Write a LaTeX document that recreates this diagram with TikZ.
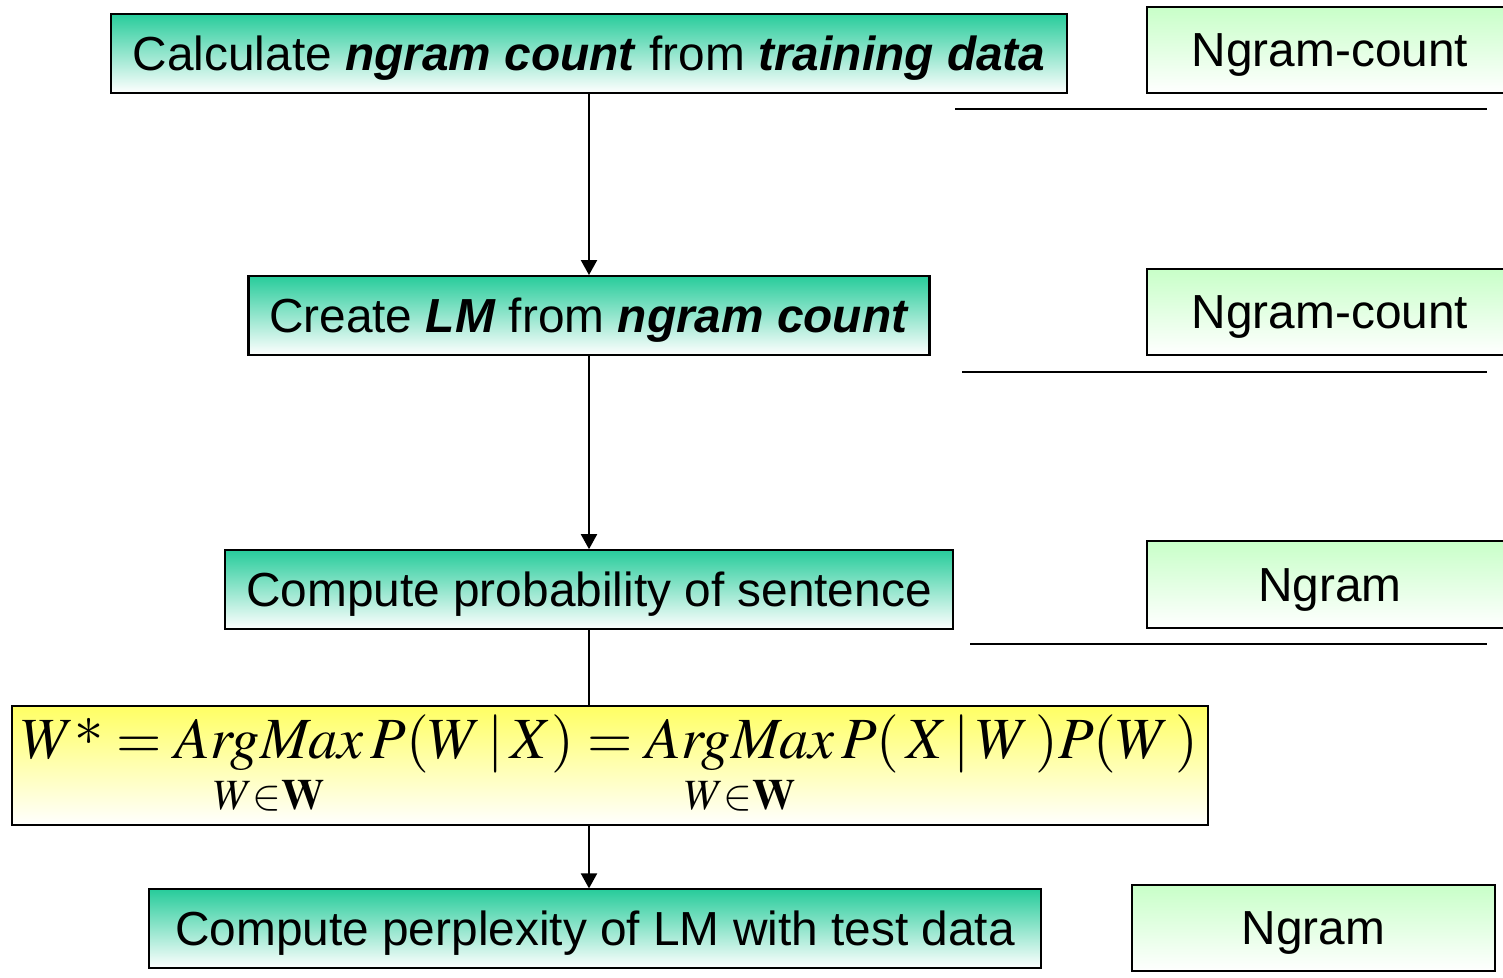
\documentclass[tikz,border=0pt]{standalone}
\usepackage{amsmath}
\usepackage{mathptmx}
\usepackage[no-math]{fontspec}
\setmainfont{Liberation Sans}
\usepackage{tikz}
\usetikzlibrary{arrows.meta,positioning}
\definecolor{stepteal}{RGB}{40,204,155}
\definecolor{toolgreen}{RGB}{200,255,200}
\definecolor{formyellow}{RGB}{255,255,100}

\begin{document}
\begin{tikzpicture}[
  node distance=1.8cm,
  stepbox/.style={rectangle, draw=black, line width=0.6pt, top color=stepteal, bottom color=white,
    minimum height=0.79cm, inner sep=0pt, text height=0.43cm, text depth=0.1cm,
    font=\fontsize{13.6}{16}\selectfont},
  toolbox/.style={stepbox, top color=toolgreen, minimum width=3.66cm, minimum height=0.86cm},
  formbox/.style={rectangle, draw=black, line width=0.6pt, top color=formyellow, bottom color=white,
    minimum width=11.96cm, minimum height=1.19cm, inner sep=0pt, font=\fontsize{16.6}{20}\selectfont},
  arr/.style={-{Triangle[length=1.5mm,width=1.6mm]}, line width=0.6pt}
]
\useasboundingbox (0,0) rectangle (15.03,-9.78);

% main steps
\node[stepbox, minimum width=9.56cm] (count) at (5.89,-0.535)
  {Calculate \textbf{\textit{ngram count}} from \textbf{\textit{training data}}};
\node[stepbox, minimum width=6.81cm, below=1.81cm of count] (lm)
  {Create \textbf{\textit{LM}} from \textbf{\textit{ngram count}}};
\node[stepbox, minimum width=7.28cm, below=1.93cm of lm] (prob)
  {Compute probability of sentence};
\node[formbox, below=0.75cm of prob, xshift=0.21cm] (formula)
  {$\displaystyle W\raisebox{0.22em}{$*$} = \operatorname*{\mathit{ArgMax}}_{W\in\mathbf{W}} P(W \,|\, X) = \operatorname*{\mathit{ArgMax}}_{W\in\mathbf{W}} P(\,X\,|\,W\,)P(W\,)$};
\node[stepbox, minimum width=8.92cm, below=0.62cm of formula, xshift=-0.15cm] (ppl)
  {Compute perplexity of LM with test data};

% tools (the first three run past the right edge)
\node[toolbox] (tool1) at (13.30,-0.50) {Ngram-count};
\node[toolbox] (tool2) at (13.30,-3.12) {Ngram-count};
\node[toolbox, minimum height=0.87cm] (tool3) at (13.30,-5.845) {Ngram};
\node[toolbox, minimum width=3.63cm] (tool4) at (13.135,-9.28) {Ngram};

% separators
\draw[line width=0.6pt] (9.55,-1.09) -- (14.87,-1.09);
\draw[line width=0.6pt] (9.62,-3.72) -- (14.87,-3.72);
\draw[line width=0.6pt] (9.70,-6.44) -- (14.87,-6.44);

\draw[arr] (count.south) -- (count.south |- lm.north);
\draw[arr] (lm.south) -- (lm.south |- prob.north);
\draw[line width=0.6pt] (prob.south) -- (prob.south |- formula.north);
\draw[arr] (formula.south -| prob.south) -- (prob.south |- ppl.north);
\end{tikzpicture}
\end{document}
